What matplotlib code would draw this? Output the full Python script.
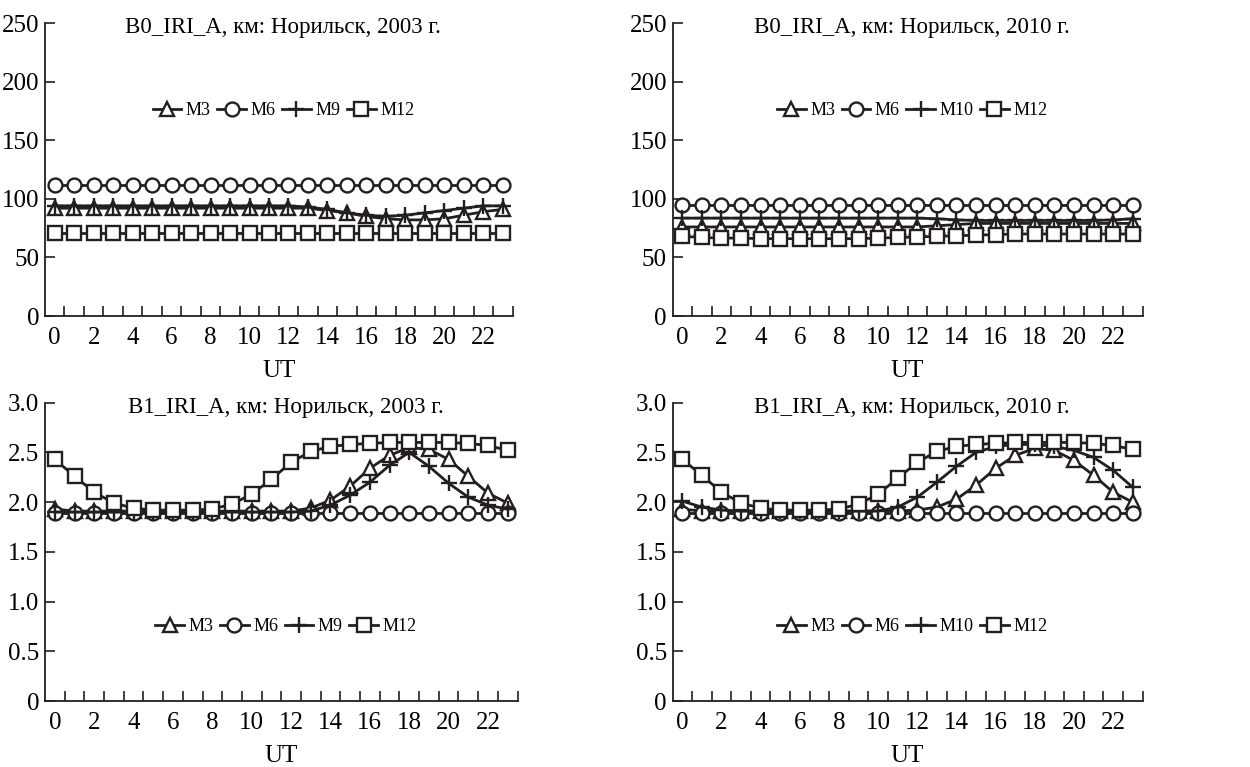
import matplotlib
matplotlib.use("Agg")
from matplotlib import pyplot as plt
from matplotlib.ticker import FixedLocator

plt.rcParams['font.family'] = ['Liberation Serif', 'DejaVu Serif']

ut = list(range(24))

# B0, km, 2003
b0_2003_m3 = [92, 92, 92, 92, 92, 92, 92, 92, 92, 92, 92, 92, 92, 92, 90, 88, 85, 83, 82, 82, 83, 86, 89, 91]
b0_2003_m6 = [112] * 24
b0_2003_m9 = [94, 94, 94, 94, 94, 94, 94, 94, 94, 94, 94, 94, 94, 93, 91, 88, 86, 85, 86, 88, 90, 92, 94, 94]
b0_2003_m12 = [71, 71, 71, 71, 71, 71, 71, 71, 71, 71, 71, 71, 71, 71, 71, 71, 71, 71, 71, 71, 71, 71, 71, 71]

# B0, km, 2010
b0_2010_m3 = [76, 76, 76, 76, 76, 76, 76, 76, 76, 76, 76, 76, 76, 77, 78, 79, 79, 79, 79, 79, 79, 79, 79, 79]
b0_2010_m6 = [95] * 24
b0_2010_m10 = [83.5, 83.5, 83.5, 83.5, 83.5, 83.5, 83.5, 83.5, 83.5, 83.5, 83.5, 83.5, 83.5, 83, 82, 81.5, 81.5, 81.5, 81.5, 81.5, 81.5, 81.5, 82, 83]
b0_2010_m12 = [68, 67, 66.5, 66.5, 66, 66, 66, 66, 66, 66, 66.5, 67, 67.5, 68, 68.5, 69, 69.5, 70, 70, 70, 70, 70, 70, 70]

# B1, 2003
b1_2003_m3 = [1.93, 1.91, 1.91, 1.91, 1.91, 1.91, 1.91, 1.91, 1.91, 1.91, 1.91, 1.91, 1.91, 1.94, 2.02, 2.16, 2.34, 2.47, 2.55, 2.53, 2.43, 2.26, 2.09, 1.99]
b1_2003_m6 = [1.89] * 24
b1_2003_m9 = [1.90, 1.90, 1.90, 1.90, 1.90, 1.90, 1.90, 1.90, 1.90, 1.90, 1.90, 1.90, 1.90, 1.91, 1.97, 2.07, 2.20, 2.37, 2.50, 2.36, 2.19, 2.05, 1.97, 1.93]
b1_2003_m12 = [2.43, 2.26, 2.10, 1.99, 1.94, 1.92, 1.92, 1.92, 1.93, 1.98, 2.08, 2.23, 2.40, 2.51, 2.56, 2.58, 2.59, 2.60, 2.60, 2.60, 2.60, 2.59, 2.57, 2.52]

# B1, 2010
b1_2010_m3 = [1.93, 1.91, 1.91, 1.91, 1.91, 1.91, 1.91, 1.91, 1.91, 1.91, 1.91, 1.91, 1.92, 1.95, 2.03, 2.17, 2.34, 2.47, 2.54, 2.52, 2.42, 2.27, 2.10, 2.00]
b1_2010_m6 = [1.89] * 24
b1_2010_m10 = [2.01, 1.95, 1.92, 1.91, 1.91, 1.91, 1.91, 1.91, 1.91, 1.91, 1.91, 1.95, 2.05, 2.20, 2.36, 2.50, 2.56, 2.58, 2.58, 2.56, 2.52, 2.45, 2.32, 2.15]
b1_2010_m12 = [2.43, 2.27, 2.10, 1.99, 1.94, 1.92, 1.92, 1.92, 1.93, 1.98, 2.08, 2.24, 2.40, 2.51, 2.56, 2.58, 2.59, 2.60, 2.60, 2.60, 2.60, 2.59, 2.57, 2.53]

ink = '#231f20'
markers = ['^', 'o', '+', 's']


def panel(ax, series, labels, title, ymax, ystep, yfmt, leg_y):
    for vals, lab, mk in zip(series, labels, markers):
        ax.plot(ut, vals, color=ink, lw=2.0, marker=mk, ms=10 if mk != '+' else 12,
                mfc='white', mec=ink, mew=1.7, label=lab)
    ax.set_xlim(-0.5, 23.5)
    ax.set_ylim(0, ymax)
    yt = [i * ystep for i in range(int(round(ymax / ystep)) + 1)]
    ax.set_yticks(yt)
    ax.set_yticklabels([yfmt(v) for v in yt])
    ax.set_xticks(list(range(0, 24, 2)))
    ax.xaxis.set_minor_locator(FixedLocator([k + 0.5 for k in range(24)]))
    ax.tick_params(axis='x', which='major', length=0, pad=8, labelsize=18)
    ax.tick_params(axis='x', which='minor', direction='in', length=7, width=1.2, color=ink)
    ax.tick_params(axis='y', direction='in', length=7, width=1.2, color=ink, pad=4, labelsize=18)
    for s in ['top', 'right']:
        ax.spines[s].set_visible(False)
    for s in ['left', 'bottom']:
        ax.spines[s].set_color(ink)
        ax.spines[s].set_linewidth(1.3)
    ax.set_xlabel('UT', fontsize=18, labelpad=8)
    ax.text(0.51, 0.985, title, transform=ax.transAxes, ha='center', va='center', fontsize=16.5)
    ax.legend(loc='center', bbox_to_anchor=(0.51, leg_y), ncol=4, frameon=False,
              fontsize=13, handlelength=1.6, handletextpad=0.25, columnspacing=0.35)


fig = plt.figure(figsize=(12.5, 7.67), dpi=100)
ax1 = fig.add_axes([0.036, 0.588, 0.374, 0.382])
ax2 = fig.add_axes([0.538, 0.588, 0.376, 0.382])
ax3 = fig.add_axes([0.036, 0.086, 0.378, 0.389])
ax4 = fig.add_axes([0.538, 0.086, 0.376, 0.389])

int_fmt = lambda v: '%d' % v
dec_fmt = lambda v: '0' if v == 0 else '%.1f' % v

panel(ax1, [b0_2003_m3, b0_2003_m6, b0_2003_m9, b0_2003_m12], ['M3', 'M6', 'M9', 'M12'],
      'B0_IRI_A, км: Норильск, 2003 г.', 250, 50, int_fmt, 0.70)
panel(ax2, [b0_2010_m3, b0_2010_m6, b0_2010_m10, b0_2010_m12], ['M3', 'M6', 'M10', 'M12'],
      'B0_IRI_A, км: Норильск, 2010 г.', 250, 50, int_fmt, 0.70)
panel(ax3, [b1_2003_m3, b1_2003_m6, b1_2003_m9, b1_2003_m12], ['M3', 'M6', 'M9', 'M12'],
      'B1_IRI_A, км: Норильск, 2003 г.', 3.0, 0.5, dec_fmt, 0.25)
panel(ax4, [b1_2010_m3, b1_2010_m6, b1_2010_m10, b1_2010_m12], ['M3', 'M6', 'M10', 'M12'],
      'B1_IRI_A, км: Норильск, 2010 г.', 3.0, 0.5, dec_fmt, 0.25)

fig.savefig('out.png', dpi=100)
